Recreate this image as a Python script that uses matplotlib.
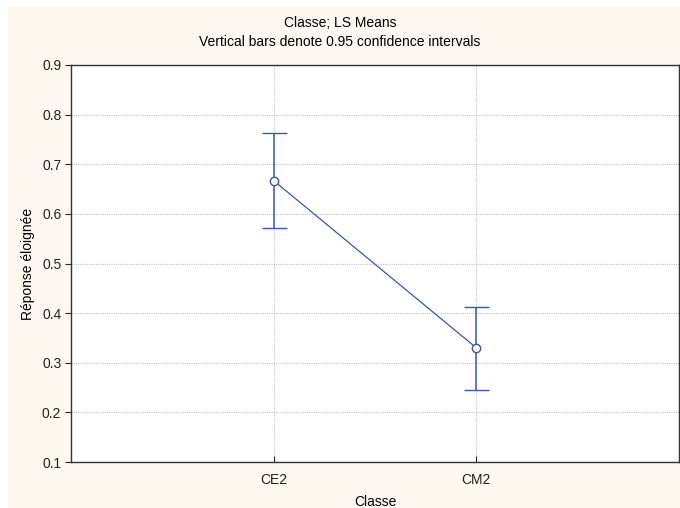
import matplotlib.pyplot as plt
from matplotlib.patches import Rectangle

# LS means per class, with 0.95 confidence limits
classes = ["CE2", "CM2"]
means = [0.667, 0.330]
ci_low = [0.572, 0.246]
ci_high = [0.762, 0.413]

yticks = [0.1, 0.2, 0.3, 0.4, 0.5, 0.6, 0.7, 0.8, 0.9]

line_color = "#3a56b0"
plt.rcParams["font.family"] = ["Liberation Sans", "DejaVu Sans"]

fig = plt.figure(figsize=(6.8, 5.08), dpi=100, facecolor="white")
# cream panel behind the plot, leaving a thin white margin top/left
fig.patches.append(Rectangle((8 / 680, 0), 1, 1 - 7 / 508, transform=fig.transFigure,
                             facecolor="#fdf9f0", edgecolor="none", zorder=-10))

ax = fig.add_axes([71 / 680, 1 - 462 / 508, (679 - 71) / 680, (462 - 65) / 508])
ax.set_facecolor("white")

x = [1, 2]
err_lo = [m - lo for m, lo in zip(means, ci_low)]
err_hi = [hi - m for m, hi in zip(means, ci_high)]
ax.errorbar(x, means, yerr=[err_lo, err_hi], color=line_color, lw=0.9,
            elinewidth=1.1, capsize=9, capthick=1.1, marker="o", ms=6,
            mfc="white", mec=line_color, mew=1.0, zorder=3)

ax.set_xlim(0, 3)
ax.set_ylim(0.1, 0.9)
ax.set_xticks(x)
ax.set_xticklabels(classes)
ax.set_yticks(yticks)
ax.set_yticklabels([f"{v:.1f}" for v in yticks])
ax.tick_params(axis="both", labelsize=10, colors="#222222")
ax.tick_params(axis="y", direction="out", length=4, width=0.8, pad=3)
ax.tick_params(axis="x", direction="in", length=4, width=0.8, pad=8)
ax.grid(True, color="#c4c4c4", linestyle=(0, (1, 1)), linewidth=0.8)
ax.set_axisbelow(True)
for s in ax.spines.values():
    s.set_color("#333333")
    s.set_linewidth(1.0)

ax.set_xlabel("Classe", fontsize=10)
ax.xaxis.set_label_coords(0.5, -(502 - 462) / 397, transform=ax.transAxes)
ax.xaxis.label.set_va("center")
ax.set_ylabel("Réponse éloignée", fontsize=10)
ax.yaxis.set_label_coords(-(71 - 28) / 608, 0.5)
ax.yaxis.label.set_va("center")

fig.text(0.5, 1 - 23 / 508, "Classe; LS Means", ha="center", va="center", fontsize=10)
fig.text(0.5, 1 - 42 / 508, "Vertical bars denote 0.95 confidence intervals",
         ha="center", va="center", fontsize=10)

fig.savefig("out.png", dpi=100, facecolor=fig.get_facecolor())
